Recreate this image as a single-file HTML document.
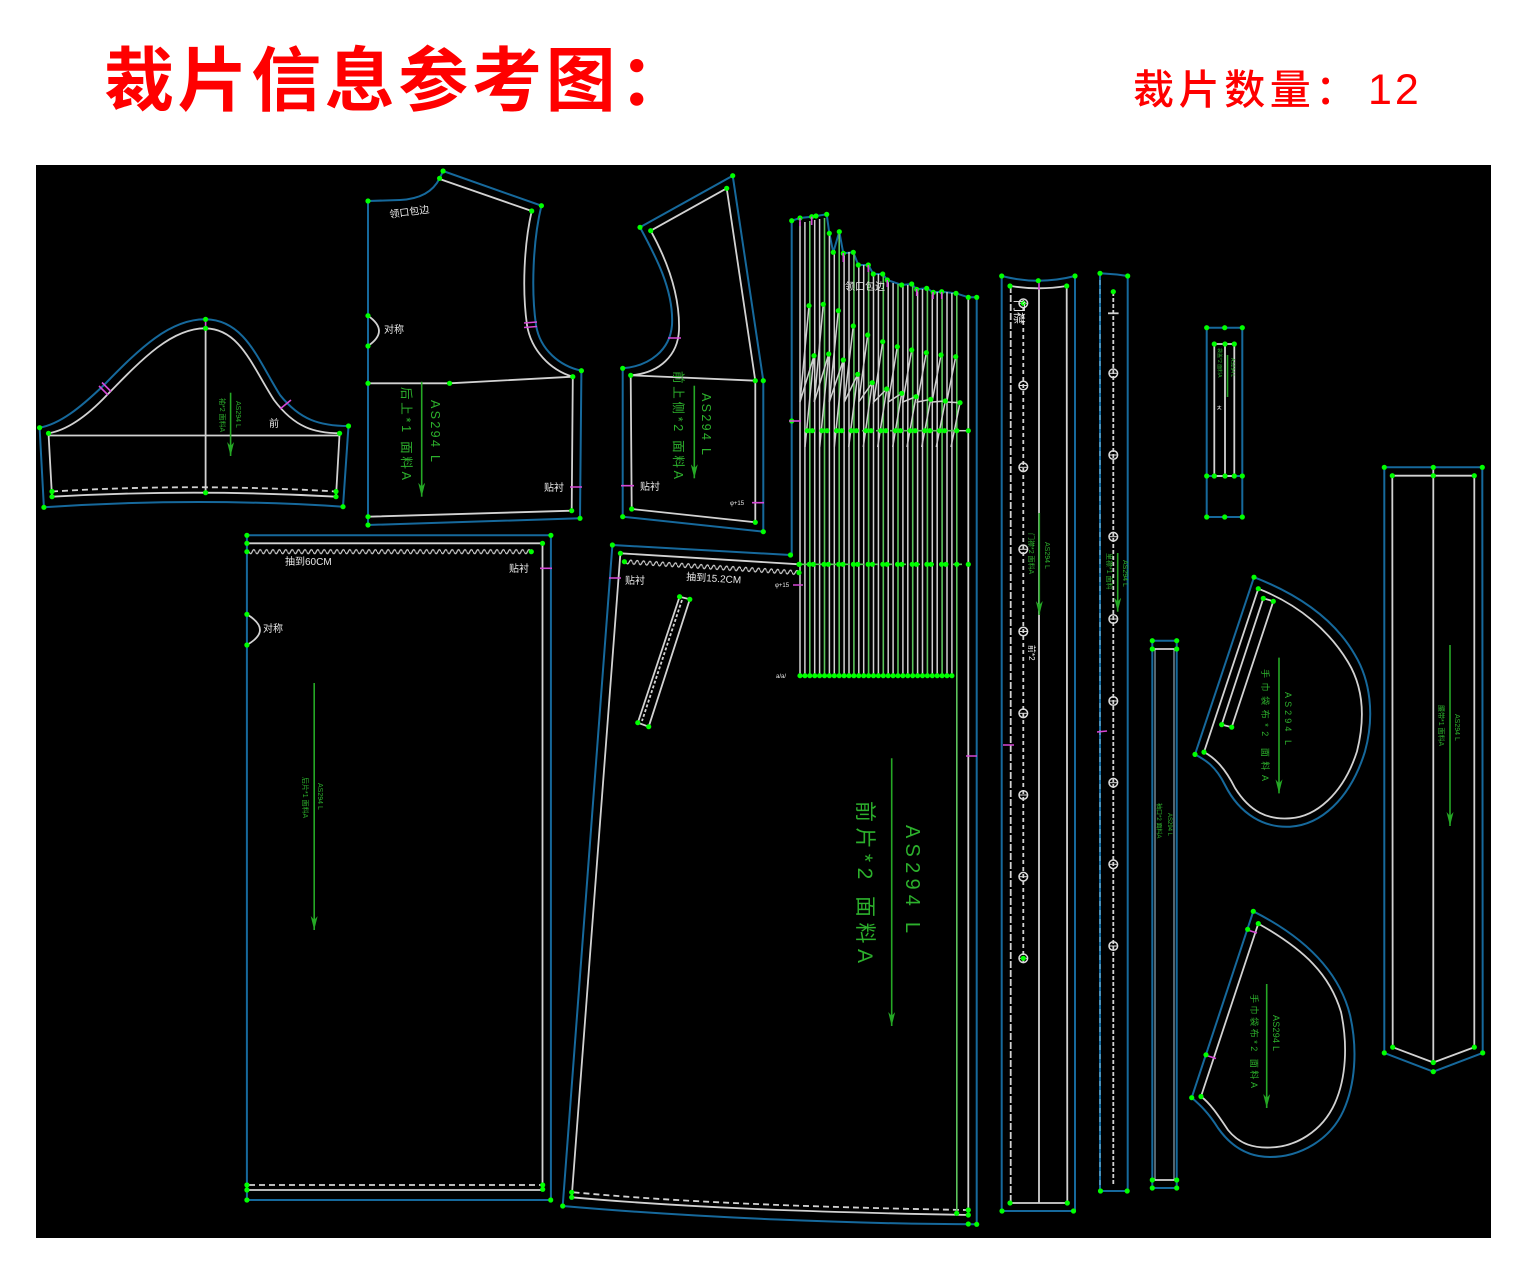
<!DOCTYPE html>
<html>
<head>
<meta charset="utf-8">
<style>
html,body{margin:0;padding:0;background:#fff;}
svg{display:block;}
.b{stroke:#16699c;stroke-width:2;fill:none;}
.w{stroke:#d2d2d2;stroke-width:1.8;fill:none;}
.wt{stroke:#cfcfcf;stroke-width:1.5;fill:none;}
.gl{stroke:#5cc45c;stroke-width:1.6;fill:none;}
.p{stroke:#d648d6;stroke-width:1.6;fill:none;}
.ar{stroke:#25a825;stroke-width:1.6;fill:none;}
.gt{fill:#2cb02c;font-family:"Liberation Sans","Noto Sans CJK SC",sans-serif;}
.wl{fill:#e8e8e8;font-family:"Liberation Sans","Noto Sans CJK SC",sans-serif;}
</style>
</head>
<body>
<svg width="1526" height="1288" viewBox="0 0 1526 1288" xmlns="http://www.w3.org/2000/svg">
<defs>
  <circle id="d" r="2.6" fill="#00ff00"/>
  <g id="bh"><circle r="4.3" fill="none" stroke="#dcdcdc" stroke-width="1.5"/><line x1="-4" y1="0" x2="4" y2="0" stroke="#dcdcdc" stroke-width="1"/></g>
  <pattern id="zz" x="0" y="-4" width="6.4" height="8" patternUnits="userSpaceOnUse">
    <path d="M0,4 Q1.6,8 3.2,4 T6.4,4" stroke="#d2d2d2" stroke-width="1.2" fill="none"/>
  </pattern>
  <marker id="ah" viewBox="0 0 14 7" refX="14" refY="3.5" markerWidth="14" markerHeight="7" markerUnits="userSpaceOnUse" orient="auto">
    <path d="M0,0 L14,3.5 L0,7 L4,3.5 Z" fill="#25a825"/>
  </marker>
</defs>

<rect x="0" y="0" width="1526" height="1288" fill="#ffffff"/>

<!-- Titles -->
<text x="104 177.6 251.2 324.8 398.4 472 545.6 619.2" y="105" font-size="70" font-weight="700" fill="#ff0000" font-family="'Liberation Sans','Noto Sans CJK SC',sans-serif">裁片信息参考图：</text>
<text x="1133 1178.6 1224.2 1269.8 1315.4" y="104" font-size="41" font-weight="500" fill="#ff0000" font-family="'Liberation Sans','Noto Sans CJK SC',sans-serif">裁片数量：</text>
<text x="1368" y="104" font-size="43" font-weight="500" fill="#ff0000" letter-spacing="3" font-family="'Liberation Sans','Noto Sans CJK SC',sans-serif">12</text>

<rect x="36" y="165" width="1455" height="1073" fill="#000"/>

<!-- ===== Sleeve ===== -->
<path class="b" d="M39.6,427.7 C60,424 80,408 104,385 C140,348 170,319 205.6,319.3 C245,320 258,360 280,395 C300,420 320,426 348.5,426 L343,506.7 Q195,497 43.9,507.3 Z"/>
<path class="w" d="M48.5,433.3 C68,430 88,415 107,395 C143,358 172,328 205.6,328.3 C240,329 252,366 274,400 C295,428 315,433 339.6,433.3 L336,496.7 Q194,488.7 52,496.7 Z"/>
<path class="w" d="M48.5,435.5 L339.6,435.5 M205.6,328.3 L205.6,492.7"/>
<path class="w" stroke-dasharray="6,4" d="M52,491.5 Q194,483 336,491.5"/>
<path class="p" d="M99,386 L108,395 M102,382.5 L111,391.5 M280,409 L291,400 M205.6,319 L205.6,329"/>
<line class="ar" x1="230.6" y1="392.7" x2="230.6" y2="456" marker-end="url(#ah)"/>
<text class="gt" font-size="7" transform="translate(236,401) rotate(90)">AS294 L</text>
<text class="gt" font-size="7" transform="translate(220,398) rotate(90)">袖*2 面料A</text>
<text class="wl" font-size="10" x="269" y="427">前</text>
<use href="#d" x="39.6" y="427.7"/><use href="#d" x="48.5" y="433.3"/><use href="#d" x="205.6" y="319.3"/><use href="#d" x="205.6" y="328.3"/>
<use href="#d" x="348.5" y="426"/><use href="#d" x="339.6" y="433.3"/><use href="#d" x="43.9" y="507.3"/><use href="#d" x="343" y="506.7"/>
<use href="#d" x="52" y="496.7"/><use href="#d" x="336" y="496.7"/><use href="#d" x="52" y="491.5"/><use href="#d" x="336" y="491.5"/><use href="#d" x="205.6" y="492.7"/>

<!-- ===== Back bodice (后上) ===== -->
<path class="b" d="M368,201 L400,200 C420,199 433,192 439.6,178.3 L443.1,171 L541.4,205.7 C533,240 531,290 536,325 C540,350 560,366 581.4,370.7 L580,518.3 L368,525 Z"/>
<path class="w" d="M439.6,179 L531.7,211 C524,245 522,290 527,325 C531,350 550,370 572.8,376.7 L571.7,510.7 L368,516.7"/>
<path class="w" d="M368,383.3 L449.6,383.3 L572.8,376.7"/>
<path class="w" stroke-width="2" d="M368,315.7 Q390,331 368,346"/>
<path class="p" d="M524,323 L537,322 M524,327.5 L537,326.5 M570,487 L582,487"/>
<text class="wl" font-size="10" x="384" y="333">对称</text>
<text class="wl" font-size="10" transform="translate(390,218) rotate(-8)">领口包边</text>
<text class="wl" font-size="10" x="544" y="491">贴衬</text>
<line class="ar" x1="421.7" y1="381.7" x2="421.7" y2="496.7" marker-end="url(#ah)"/>
<text class="gt" font-size="12.5" transform="translate(431,400) rotate(90)" textLength="62">AS294  L</text>
<text class="gt" font-size="12.5" transform="translate(402,387) rotate(90)" textLength="93">后上*1 面料A</text>
<use href="#d" x="368" y="201"/><use href="#d" x="439.6" y="178.3"/><use href="#d" x="443.1" y="171"/><use href="#d" x="541.4" y="205.7"/><use href="#d" x="531.7" y="211"/>
<use href="#d" x="581.4" y="370.7"/><use href="#d" x="572.8" y="376.7"/><use href="#d" x="368" y="383.3"/><use href="#d" x="449.6" y="383.3"/>
<use href="#d" x="571.7" y="510.7"/><use href="#d" x="368" y="516.7"/><use href="#d" x="580" y="518.3"/><use href="#d" x="368" y="525"/>
<use href="#d" x="368" y="315.7"/><use href="#d" x="368" y="346"/>

<!-- ===== Front upper side (前上侧) ===== -->
<path class="b" d="M640,227.3 L732.7,175.7 L763.3,380.7 L763.3,531.7 L622.7,516.7 L622.7,368.3 C650,366 670,350 672,325 C674,290 655,255 640,227.3 Z"/>
<path class="w" d="M650.7,230.7 L726.7,188.3 L755.3,380.7 L755.3,522.3 L631.7,509 L630.7,375.3 C660,373 678,355 679,330 C680,295 668,262 650.7,230.7 Z"/>
<path class="w" d="M630.7,375.3 L755.3,380.7"/>
<path class="p" d="M668,338 L681,338 M621,485.7 L634,485.7 M752,502.7 L764,502.7"/>
<line class="ar" x1="694.3" y1="385.7" x2="694.3" y2="478.3" marker-end="url(#ah)"/>
<text class="gt" font-size="12.5" transform="translate(702,393) rotate(90)" textLength="62">AS294  L</text>
<text class="gt" font-size="12.5" transform="translate(674,371) rotate(90)" textLength="108">前上侧*2 面料A</text>
<text class="wl" font-size="10" x="640" y="490">贴衬</text>
<text class="wl" font-size="6" x="730" y="505">φ+15</text>
<use href="#d" x="640" y="227.3"/><use href="#d" x="650.7" y="230.7"/><use href="#d" x="732.7" y="175.7"/><use href="#d" x="726.7" y="188.3"/>
<use href="#d" x="622.7" y="368.3"/><use href="#d" x="630.7" y="375.3"/><use href="#d" x="755.3" y="380.7"/><use href="#d" x="763.3" y="380.7"/>
<use href="#d" x="622.7" y="516.7"/><use href="#d" x="631.7" y="509"/><use href="#d" x="755.3" y="522.3"/><use href="#d" x="763.3" y="531.7"/>

<!-- ===== Back piece (后片) ===== -->
<path class="b" d="M246.9,535.3 L550.9,535.3 L550.9,1200 L246.9,1200 Z"/>
<path class="w" d="M246.9,543.3 L542.5,543.3 L542.5,1190 L246.9,1190"/>
<path class="w" stroke-dasharray="6,4" d="M249,1185 L542.5,1185"/>
<g transform="translate(249,551.7)"><rect x="0" y="-4" width="282" height="8" fill="url(#zz)"/></g>
<path class="w" stroke-width="2" d="M246.9,614.3 Q273,630 246.9,645"/>
<path class="p" d="M540,568.3 L552,568.3"/>
<text class="wl" font-size="10" x="285" y="565">抽到60CM</text>
<text class="wl" font-size="10" x="509" y="572">贴衬</text>
<text class="wl" font-size="10" x="263" y="632">对称</text>
<line class="ar" x1="314.2" y1="683" x2="314.2" y2="930" marker-end="url(#ah)"/>
<text class="gt" font-size="7" transform="translate(318,783) rotate(90)">AS294 L</text>
<text class="gt" font-size="7" transform="translate(303,777) rotate(90)">后片*1 面料A</text>
<use href="#d" x="246.9" y="535.3"/><use href="#d" x="550.9" y="535.3"/><use href="#d" x="246.9" y="543.3"/><use href="#d" x="542.5" y="543.3"/>
<use href="#d" x="531.3" y="551.7"/><use href="#d" x="246.9" y="551.7"/><use href="#d" x="246.9" y="614.3"/><use href="#d" x="246.9" y="645"/>
<use href="#d" x="246.9" y="1185"/><use href="#d" x="246.9" y="1190"/><use href="#d" x="246.9" y="1200"/>
<use href="#d" x="542.7" y="1185"/><use href="#d" x="542.7" y="1189.3"/><use href="#d" x="550.7" y="1200"/>

<!-- ===== Front piece with pleats (前片) ===== -->
<path class="b" d="M612.4,545 L790.5,555 L791.7,555 L791.7,220.7 L800,218 L811.7,216.7 L826.7,214.3 L829.3,233.3 L833.3,252.3 L839.3,231.7 L843.3,253.3 L853.3,252.3 L858.3,265 L868.3,265 L873.3,274 L882.7,274 L887.3,280 L901.7,285 L911.7,284 L916.7,289.3 L926.7,288.3 L933.3,292.3 L941.7,291.7 L956,293.3 L968.3,297.3 L976.7,297.3 L976.7,1224.3 C860,1224 700,1218 562.7,1206 Z"/>
<path class="w" d="M620.4,553.3 L799,564.3 M620.4,553.3 L571.7,1197.3 C680,1207 800,1212 968.3,1215 L968.3,297.3"/>
<path class="w" stroke-dasharray="6,4" d="M573.5,1192.3 C680,1202 800,1207 966,1210"/>
<g transform="translate(626,561.8) rotate(3.6)"><rect x="0" y="-4" width="173" height="8" fill="url(#zz)"/></g>
<!-- pleat lines -->
<g class="wt">
<path d="M800,222V675.7M804.9,222V675.7M814.7,220V675.7M819.6,219V675.7M829.4,234V675.7M834.3,250V675.7M844.1,252V675.7M849,252V675.7M858.8,265V675.7M863.7,265V675.7M873.5,274V675.7M878.4,274V675.7M888.2,281V675.7M893.1,283V675.7M902.9,285V675.7M907.8,285V675.7M917.6,289V675.7M922.5,289V675.7M932.3,292V675.7M937.2,292V675.7M947,292V675.7M951.9,293V675.7"/>
</g>
<g class="gl">
<path d="M809.8,221V675.7M824.5,218V675.7M839.2,234V675.7M853.9,254V675.7M868.6,266V675.7M883.3,275V675.7M898,284V675.7M912.7,286V675.7M927.4,289V675.7M942.1,292V675.7M956.8,294V1213"/>
</g>
<!-- pleat zigzags -->
<g class="wt" stroke-width="1.4">
<path d="M809,305.7 L800,402 L814,355.7 L805,447"/>
<path d="M823.3,304.3 L814.3,402 L828.7,354 L819.7,447"/>
<path d="M838.3,310.7 L829.3,402 L843.3,360 L834.3,447"/>
<path d="M853.3,326 L844.3,402 L857.7,374.3 L848.7,447"/>
<path d="M867.7,335 L858.7,402 L872.3,382.7 L863.3,447"/>
<path d="M882.7,341.7 L873.7,402 L886.7,389 L877.7,447"/>
<path d="M897.3,346.7 L888.3,402 L901.7,393.3 L892.7,447"/>
<path d="M911.7,350 L902.7,402 L916,396.7 L907,447"/>
<path d="M926.3,352.7 L917.3,402 L930.7,399.3 L921.7,447"/>
<path d="M941,355 L932,402 L945.3,401 L936.3,447"/>
<path d="M955.7,356.7 L946.7,402 L960,402.7 L951,447"/>
</g>
<path class="gl" stroke="#3cc83c" stroke-dasharray="9,5" d="M806,430.7 L957,430.7 M799,564.3 L968,564.3"/>
<path class="wt" d="M957,430.7 L968.3,430.7"/>
<g>
<use href="#d" x="807.3" y="430.7"/><use href="#d" x="812.3" y="430.7"/><use href="#d" x="822" y="430.7"/><use href="#d" x="827" y="430.7"/>
<use href="#d" x="836.7" y="430.7"/><use href="#d" x="841.7" y="430.7"/><use href="#d" x="851.4" y="430.7"/><use href="#d" x="856.4" y="430.7"/>
<use href="#d" x="866.1" y="430.7"/><use href="#d" x="871.1" y="430.7"/><use href="#d" x="880.8" y="430.7"/><use href="#d" x="885.8" y="430.7"/>
<use href="#d" x="895.5" y="430.7"/><use href="#d" x="900.5" y="430.7"/><use href="#d" x="910.2" y="430.7"/><use href="#d" x="915.2" y="430.7"/>
<use href="#d" x="924.9" y="430.7"/><use href="#d" x="929.9" y="430.7"/><use href="#d" x="939.6" y="430.7"/><use href="#d" x="944.6" y="430.7"/>
<use href="#d" x="956.8" y="430.7"/><use href="#d" x="968.3" y="430.7"/>
<use href="#d" x="799.3" y="564.3"/><use href="#d" x="809.3" y="564.3"/><use href="#d" x="813.3" y="564.3"/><use href="#d" x="824" y="564.3"/><use href="#d" x="828.3" y="564.3"/>
<use href="#d" x="838.7" y="564.3"/><use href="#d" x="843" y="564.3"/><use href="#d" x="853.4" y="564.3"/><use href="#d" x="857.7" y="564.3"/>
<use href="#d" x="868.1" y="564.3"/><use href="#d" x="872.4" y="564.3"/><use href="#d" x="882.8" y="564.3"/><use href="#d" x="887.1" y="564.3"/>
<use href="#d" x="897.5" y="564.3"/><use href="#d" x="901.8" y="564.3"/><use href="#d" x="912.2" y="564.3"/><use href="#d" x="916.5" y="564.3"/>
<use href="#d" x="926.9" y="564.3"/><use href="#d" x="931.2" y="564.3"/><use href="#d" x="941.6" y="564.3"/><use href="#d" x="945.9" y="564.3"/>
<use href="#d" x="956.8" y="564.3"/><use href="#d" x="968.3" y="564.3"/>
</g>
<!-- bottom dots of pleats -->
<g>
<use href="#d" x="800" y="675.7"/><use href="#d" x="804.9" y="675.7"/><use href="#d" x="809.8" y="675.7"/><use href="#d" x="814.7" y="675.7"/><use href="#d" x="819.6" y="675.7"/>
<use href="#d" x="824.5" y="675.7"/><use href="#d" x="829.4" y="675.7"/><use href="#d" x="834.3" y="675.7"/><use href="#d" x="839.2" y="675.7"/><use href="#d" x="844.1" y="675.7"/>
<use href="#d" x="849" y="675.7"/><use href="#d" x="853.9" y="675.7"/><use href="#d" x="858.8" y="675.7"/><use href="#d" x="863.7" y="675.7"/><use href="#d" x="868.6" y="675.7"/>
<use href="#d" x="873.5" y="675.7"/><use href="#d" x="878.4" y="675.7"/><use href="#d" x="883.3" y="675.7"/><use href="#d" x="888.2" y="675.7"/><use href="#d" x="893.1" y="675.7"/>
<use href="#d" x="898" y="675.7"/><use href="#d" x="902.9" y="675.7"/><use href="#d" x="907.8" y="675.7"/><use href="#d" x="912.7" y="675.7"/><use href="#d" x="917.6" y="675.7"/>
<use href="#d" x="922.5" y="675.7"/><use href="#d" x="927.4" y="675.7"/><use href="#d" x="932.3" y="675.7"/><use href="#d" x="937.2" y="675.7"/><use href="#d" x="942.1" y="675.7"/>
<use href="#d" x="947" y="675.7"/><use href="#d" x="951.9" y="675.7"/>
</g>
<!-- top edge dots of pleats -->
<g>
<use href="#d" x="791.7" y="220.7"/><use href="#d" x="800" y="218"/><use href="#d" x="811.7" y="216.7"/><use href="#d" x="816" y="216"/><use href="#d" x="826.7" y="214.3"/>
<use href="#d" x="829.3" y="233.3"/><use href="#d" x="833.3" y="252.3"/><use href="#d" x="839.3" y="231.7"/><use href="#d" x="843.3" y="253.3"/><use href="#d" x="853.3" y="252.3"/>
<use href="#d" x="858.3" y="265"/><use href="#d" x="868.3" y="265"/><use href="#d" x="873.3" y="274"/><use href="#d" x="882.7" y="274"/><use href="#d" x="887.3" y="280"/>
<use href="#d" x="901.7" y="285"/><use href="#d" x="911.7" y="284"/><use href="#d" x="916.7" y="289.3"/><use href="#d" x="926.7" y="288.3"/><use href="#d" x="933.3" y="292.3"/>
<use href="#d" x="941.7" y="291.7"/><use href="#d" x="956" y="293.3"/><use href="#d" x="968.3" y="297.3"/><use href="#d" x="976.7" y="297.3"/>
</g>
<g>
<use href="#d" x="809" y="305.7"/><use href="#d" x="823.3" y="304.3"/><use href="#d" x="838.3" y="310.7"/><use href="#d" x="853.3" y="326"/><use href="#d" x="867.7" y="335"/>
<use href="#d" x="882.7" y="341.7"/><use href="#d" x="897.3" y="346.7"/><use href="#d" x="911.7" y="350"/><use href="#d" x="926.3" y="352.7"/><use href="#d" x="941" y="355"/><use href="#d" x="955.7" y="356.7"/>
<use href="#d" x="814" y="355.7"/><use href="#d" x="828.7" y="354"/><use href="#d" x="843.3" y="360"/><use href="#d" x="857.7" y="374.3"/><use href="#d" x="872.3" y="382.7"/>
<use href="#d" x="886.7" y="389"/><use href="#d" x="901.7" y="393.3"/><use href="#d" x="916" y="396.7"/><use href="#d" x="930.7" y="399.3"/><use href="#d" x="945.3" y="401"/><use href="#d" x="960" y="402.7"/>
</g>
<path class="p" stroke-width="1.2" d="M800,218V226M811.7,216.7V225M843.3,253V262M868.3,265V272M887.3,280V287M916.7,289V296M941.7,292V299M933,292V299"/>
<text class="wl" font-size="10" x="845" y="290">领口包边</text>
<!-- pocket welt -->
<path class="w" stroke-width="1.5" d="M679.6,596.7 L689.8,599.3 L648.7,726.7 L637.8,722.7 Z"/>
<path class="w" stroke-width="1.2" stroke-dasharray="3,2" d="M682,600 L642,721"/>
<use href="#d" x="679.6" y="596.7"/><use href="#d" x="689.8" y="599.3"/><use href="#d" x="648.7" y="726.7"/><use href="#d" x="637.8" y="722.7"/>
<path class="p" d="M609,578 L621,578 M793,585 L803,585 M966,756 L977,756"/>
<text class="wl" font-size="10" x="625" y="584">贴衬</text>
<text class="wl" font-size="10" transform="translate(686,580) rotate(3.6)">抽到15.2CM</text>
<text class="wl" font-size="6" x="775" y="587">φ+15</text>
<text class="wl" font-size="6" x="776" y="678">a/a/</text>
<line class="ar" x1="891.7" y1="758.3" x2="891.7" y2="1026" marker-end="url(#ah)"/>
<text class="gt" font-size="20" transform="translate(906,825) rotate(90)" textLength="108">AS294  L</text>
<text class="gt" font-size="21" transform="translate(858,801) rotate(90)" textLength="162">前片*2  面料A</text>
<use href="#d" x="612.4" y="545"/><use href="#d" x="620.4" y="553.3"/><use href="#d" x="624.4" y="561.7"/><use href="#d" x="790.5" y="555"/>
<use href="#d" x="799" y="564.3"/><use href="#d" x="799" y="572.7"/><use href="#d" x="791.7" y="421"/>
<use href="#d" x="562.7" y="1206"/><use href="#d" x="571.7" y="1197.3"/><use href="#d" x="571.7" y="1192.3"/>
<use href="#d" x="956.7" y="1213.3"/><use href="#d" x="968.3" y="1210"/><use href="#d" x="968.3" y="1215"/><use href="#d" x="968.3" y="1224"/><use href="#d" x="976.7" y="1224.3"/>
<path class="p" d="M789,421 L801,421"/>

<!-- ===== Strip 1 (门襟) ===== -->
<path class="b" d="M1001.7,276 Q1038.3,285.4 1075,276 L1075,1211 L1001.7,1211 Z"/>
<path class="w" d="M1010.7,286 Q1038.3,290.6 1066.7,286 L1067.3,1203 L1010.7,1203"/>
<path class="w" stroke-dasharray="7,2" d="M1010.7,286 L1010.7,1203"/>
<path class="w" d="M1039,288.5 L1039,1203"/>
<path class="w" stroke-width="1.3" stroke-dasharray="4,3" d="M1023.3,300 L1023.3,962"/>
<use href="#bh" x="1023.3" y="303.3"/><use href="#bh" x="1023.3" y="385.5"/><use href="#bh" x="1023.3" y="467.3"/><use href="#bh" x="1023.3" y="549.3"/>
<use href="#bh" x="1023.3" y="631.5"/><use href="#bh" x="1023.3" y="713.3"/><use href="#bh" x="1023.3" y="795"/><use href="#bh" x="1023.3" y="876.7"/><use href="#bh" x="1023.3" y="958.3"/>
<use href="#d" x="1023.3" y="303.3"/><use href="#d" x="1023.3" y="958.3"/>
<path class="p" d="M1039,281 L1039,290 M1003,745 L1014,745"/>
<text class="wl" font-size="12" transform="translate(1015,300) rotate(90)">门襟</text>
<text class="wl" font-size="8" transform="translate(1029,645) rotate(90)">前*2</text>
<line class="ar" x1="1039.3" y1="513" x2="1039.3" y2="615" marker-end="url(#ah)"/>
<text class="gt" font-size="7" transform="translate(1045,542) rotate(90)">AS294 L</text>
<text class="gt" font-size="7" transform="translate(1029,533) rotate(90)">门襟*2 面料A</text>
<use href="#d" x="1001.7" y="276"/><use href="#d" x="1038.3" y="280.7"/><use href="#d" x="1075" y="276"/>
<use href="#d" x="1010" y="286"/><use href="#d" x="1066.7" y="286"/>
<use href="#d" x="1010" y="1203"/><use href="#d" x="1067.3" y="1203"/><use href="#d" x="1002" y="1211"/><use href="#d" x="1073.5" y="1211"/>

<!-- ===== Strip 2 ===== -->
<path class="b" d="M1100,273.3 Q1114,274 1127.7,276 L1127.7,1191 L1100,1191 Z"/>
<path stroke="#7ab8d8" stroke-width="1" stroke-dasharray="5,4" fill="none" d="M1100,280 L1100,1188"/>
<path class="w" stroke-width="1.3" stroke-dasharray="4,2" d="M1113.3,292 L1113.3,1185"/>
<use href="#d" x="1113.3" y="291.7"/>
<path class="w" stroke-width="1.2" d="M1108,313.3 L1118.6,313.3"/>
<use href="#bh" x="1113.3" y="373.3"/><use href="#bh" x="1113.3" y="455"/><use href="#bh" x="1113.3" y="536.7"/><use href="#bh" x="1113.3" y="619"/>
<use href="#bh" x="1113.3" y="701"/><use href="#bh" x="1113.3" y="782.7"/><use href="#bh" x="1113.3" y="864.3"/><use href="#bh" x="1113.3" y="946"/>
<path class="p" d="M1097,732 L1107,731"/>
<line class="ar" x1="1117.7" y1="553" x2="1117.7" y2="611.7" marker-end="url(#ah)"/>
<text class="gt" font-size="7" transform="translate(1123,560) rotate(90)">AS294 L</text>
<text class="gt" font-size="7" transform="translate(1107,553) rotate(90)">里襟*1 面料</text>
<use href="#d" x="1100" y="273.3"/><use href="#d" x="1127.7" y="276"/>
<use href="#d" x="1100.5" y="1191"/><use href="#d" x="1127.2" y="1191"/>

<!-- ===== Strip 3 ===== -->
<path class="b" d="M1152.3,640.7 L1176.7,640.7 L1176.7,1188 L1152.3,1188 Z"/>
<path stroke="#a8c8da" stroke-width="1" fill="none" d="M1155,649 L1155,1180 M1174,649 L1174,1180"/>
<path class="w" d="M1152.3,649 L1176.7,649 M1152.3,1180 L1176.7,1180"/>
<text class="gt" font-size="6" transform="translate(1168,813) rotate(90)">AS294 L</text>
<text class="gt" font-size="6" transform="translate(1157,803) rotate(90)">袖口*2 面料A</text>
<use href="#d" x="1152.3" y="640.7"/><use href="#d" x="1176.7" y="640.7"/><use href="#d" x="1152.3" y="649"/><use href="#d" x="1176.7" y="649"/>
<use href="#d" x="1152.3" y="1180"/><use href="#d" x="1176.7" y="1180"/><use href="#d" x="1152.3" y="1188"/><use href="#d" x="1176.7" y="1188"/>

<!-- ===== Small piece J ===== -->
<path class="b" d="M1206.7,327.7 L1242.3,327.7 L1242.3,517 L1206.7,517 Z M1206.7,476 L1242.3,476"/>
<path class="w" d="M1214.3,344 L1234.3,344 L1234.3,476 L1214.3,476 Z M1225,344 L1225,476"/>
<line class="ar" stroke-width="1.2" x1="1227.5" y1="355" x2="1227.5" y2="397"/>
<text class="gt" font-size="5" transform="translate(1231,358) rotate(90)">AS294 L</text>
<text class="gt" font-size="5" transform="translate(1218,348) rotate(90)">袋盖*2 面料A</text>
<text class="wl" font-size="7" x="1216" y="410">ㅊ</text>
<use href="#d" x="1206.7" y="327.7"/><use href="#d" x="1224.7" y="327.7"/><use href="#d" x="1242.3" y="327.7"/>
<use href="#d" x="1214.3" y="344"/><use href="#d" x="1225" y="344"/><use href="#d" x="1234.3" y="344"/>
<use href="#d" x="1206.7" y="476"/><use href="#d" x="1214.3" y="476"/><use href="#d" x="1225" y="476"/><use href="#d" x="1234.3" y="476"/><use href="#d" x="1242.3" y="476"/>
<use href="#d" x="1206.7" y="517"/><use href="#d" x="1224.7" y="517"/><use href="#d" x="1242.3" y="517"/>

<!-- ===== Pocket bag upper ===== -->
<path class="b" d="M1254,577.2 L1195,754.4 C1205,760 1215,765 1225,785 C1240,815 1265,828 1290,826.7 C1320,825 1350,800 1365,751.4 C1375,715 1370,680 1355,655 C1335,620 1300,595 1254,577.2 Z"/>
<path class="w" d="M1258.3,588.7 L1204,752.1 C1215,758 1225,768 1235,788 C1250,812 1268,820 1290,818.3 C1315,817 1343,795 1357,751.4 C1366,715 1362,685 1348,662 C1330,632 1300,605 1258.3,588.7 Z"/>
<path class="w" stroke-width="1.5" d="M1263.3,598.3 L1273.3,601.3 L1231.7,727.2 L1221.7,724.6 Z"/>
<line class="ar" x1="1279" y1="657.6" x2="1279" y2="793.4" marker-end="url(#ah)"/>
<text class="gt" font-size="9" transform="translate(1285,692) rotate(90)" textLength="53">AS294  L</text>
<text class="gt" font-size="9" transform="translate(1262,669) rotate(90)" textLength="112">手巾袋布*2  面料A</text>
<use href="#d" x="1254" y="577.2"/><use href="#d" x="1258.3" y="588.7"/><use href="#d" x="1263.3" y="598.3"/><use href="#d" x="1273.3" y="601.3"/>
<use href="#d" x="1231.7" y="727.2"/><use href="#d" x="1221.7" y="724.6"/><use href="#d" x="1195" y="754.4"/><use href="#d" x="1204" y="752.1"/>

<!-- ===== Pocket bag lower ===== -->
<path class="b" d="M1253.3,911.3 L1191.7,1097.7 C1200,1105 1208,1112 1218,1128 C1232,1148 1250,1157 1270,1157 C1300,1157 1330,1140 1343.3,1111 C1355,1085 1358,1050 1350,1015 C1340,975 1310,940 1253.3,911.3 Z"/>
<path class="w" d="M1258.3,923.6 L1201,1096.5 C1210,1103 1218,1115 1228,1130 C1240,1145 1255,1148 1270,1147.5 C1295,1147 1322,1132 1335,1103 C1346,1078 1348,1045 1341,1012 C1330,975 1305,950 1258.3,923.6 Z"/>
<path class="p" d="M1246,929.5 L1257,933 M1205,1055 L1216,1058.5"/>
<line class="ar" x1="1266.7" y1="984" x2="1266.7" y2="1108" marker-end="url(#ah)"/>
<text class="gt" font-size="9" transform="translate(1273,1015) rotate(90)" textLength="36">AS294  L</text>
<text class="gt" font-size="9" transform="translate(1251,994) rotate(90)" textLength="94">手巾袋布*2  面料A</text>
<use href="#d" x="1253.3" y="911.3"/><use href="#d" x="1258.3" y="923.6"/><use href="#d" x="1247.7" y="929.3"/><use href="#d" x="1206" y="1054.8"/>
<use href="#d" x="1191.7" y="1097.7"/><use href="#d" x="1201" y="1096.5"/>

<!-- ===== Belt ===== -->
<path class="b" d="M1384.3,467.3 L1482.3,467.3 L1482.7,1052.9 L1433.3,1071.7 L1384.3,1052.9 Z"/>
<path class="w" d="M1392.3,475.7 L1474.3,475.7 L1474.3,1047.2 L1433.3,1062.5 L1392.7,1047.2 Z M1433.3,467.3 L1433.3,1062.5"/>
<line class="ar" x1="1450" y1="645" x2="1450" y2="826" marker-end="url(#ah)"/>
<text class="gt" font-size="7" transform="translate(1455,714) rotate(90)">AS294 L</text>
<text class="gt" font-size="7" transform="translate(1439,705) rotate(90)">腰带*1 面料A</text>
<use href="#d" x="1384.3" y="467.3"/><use href="#d" x="1433.3" y="467.3"/><use href="#d" x="1482.3" y="467.3"/>
<use href="#d" x="1392.3" y="475.7"/><use href="#d" x="1433.3" y="475.7"/><use href="#d" x="1474.3" y="475.7"/>
<use href="#d" x="1384.3" y="1052.9"/><use href="#d" x="1392.7" y="1047.2"/><use href="#d" x="1433.3" y="1062.5"/><use href="#d" x="1433.3" y="1071.7"/>
<use href="#d" x="1474.3" y="1047.2"/><use href="#d" x="1482.7" y="1052.9"/>
</svg>
</body>
</html>
